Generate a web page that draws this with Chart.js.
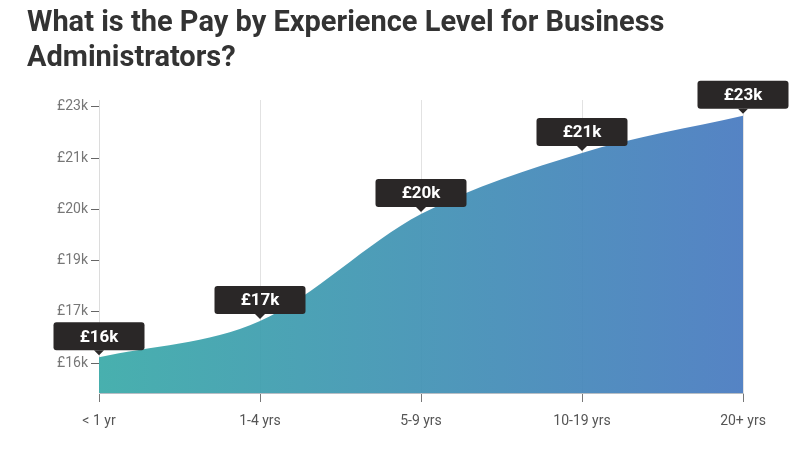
<!DOCTYPE html>
<html>
<head>
<meta charset="utf-8">
<script src="https://cdn.jsdelivr.net/npm/chart.js@4/dist/chart.umd.min.js"></script>
<style>
    html, body { margin: 0; padding: 0; background: #fff; }
    #wrap { position: relative; width: 800px; height: 453px; }
    #title {
        position: absolute; left: 27px; top: 4px;
        font-family: Roboto, sans-serif; font-weight: 700;
        font-size: 29px; line-height: 35px; color: #333;
    }
    canvas { position: absolute; left: 0; top: 0; }
</style>
</head>
<body>
<div id="wrap">
    <canvas id="payChart" width="800" height="453"></canvas>
    <div id="title">What is the Pay by Experience Level for Business<br>Administrators?</div>
</div>
<script>
// data (values in £ thousands)
const categories = ["< 1 yr", "1-4 yrs", "5-9 yrs", "10-19 yrs", "20+ yrs"];
const pay = [16.75, 17.67, 20.38, 21.93, 22.87];
const payLabels = ["£16k", "£17k", "£20k", "£21k", "£23k"];
const yTicks = [16.6, 17.9, 19.2, 20.5, 21.8, 23.1];
const yTickLabels = ["£16k", "£17k", "£19k", "£20k", "£21k", "£23k"];

Chart.defaults.font.family = "Roboto, sans-serif";

/* dark value boxes above each point */
const valueBoxes = {
    id: "valueBoxes",
    afterDatasetsDraw(chart) {
        const ctx = chart.ctx;
        const meta = chart.getDatasetMeta(0);
        const w = 91, h = 28;
        ctx.save();
        meta.data.forEach(function (pt, i) {
            const x = pt.x, y = pt.y;
            const bottom = y - 7;
            ctx.fillStyle = "#2a2727";
            ctx.beginPath();
            ctx.roundRect(x - w / 2, bottom - h, w, h, 3);
            ctx.fill();
            ctx.beginPath();
            ctx.moveTo(x - 5, bottom);
            ctx.lineTo(x + 5, bottom);
            ctx.lineTo(x, y - 2);
            ctx.closePath();
            ctx.fill();
            ctx.fillStyle = "#fff";
            ctx.font = "bold 17px Roboto, sans-serif";
            ctx.textAlign = "center";
            ctx.textBaseline = "middle";
            ctx.fillText(payLabels[i], x, bottom - h / 2 + 1);
        });
        ctx.restore();
    }
};

new Chart(document.getElementById("payChart"), {
    type: "line",
    data: {
        labels: categories,
        datasets: [
            {
                data: pay,
                fill: "start",
                cubicInterpolationMode: "monotone",
                borderWidth: 0,
                pointRadius: 0,
                backgroundColor: function (context) {
                    const area = context.chart.chartArea;
                    if (!area) return "rgba(60,160,175,0.93)";
                    const g = context.chart.ctx.createLinearGradient(area.left, 0, area.right, 0);
                    g.addColorStop(0, "rgba(58,170,168,0.93)");
                    g.addColorStop(1, "rgba(72,122,192,0.93)");
                    return g;
                }
            }
        ]
    },
    options: {
        responsive: false,
        animation: false,
        layout: { padding: { left: 0, right: 57, top: 100, bottom: 0 } },
        plugins: {
            legend: { display: false },
            tooltip: { enabled: false }
        },
        scales: {
            x: {
                offset: false,
                afterFit: function (scale) { scale.height = 60; },
                grid: {
                    color: "#e2e2e2",
                    tickColor: "#777",
                    tickLength: 9
                },
                border: { display: true, color: "rgba(50,70,90,0.35)" },
                ticks: {
                    color: "#555",
                    font: { size: 14 },
                    padding: 11,
                    maxRotation: 0
                }
            },
            y: {
                min: 15.847,
                max: 23.27,
                afterFit: function (scale) { scale.width = 99; },
                afterBuildTicks: function (scale) {
                    scale.ticks = yTicks.map(v => ({ value: v }));
                },
                grid: {
                    drawOnChartArea: false,
                    tickColor: "#666",
                    tickLength: 8
                },
                border: { display: true, color: "#dcdcdc" },
                ticks: {
                    color: "#777",
                    font: { size: 14 },
                    padding: 3,
                    callback: function (v, i) { return yTickLabels[i]; }
                }
            }
        }
    },
    plugins: [valueBoxes]
});
</script>
</body>
</html>
